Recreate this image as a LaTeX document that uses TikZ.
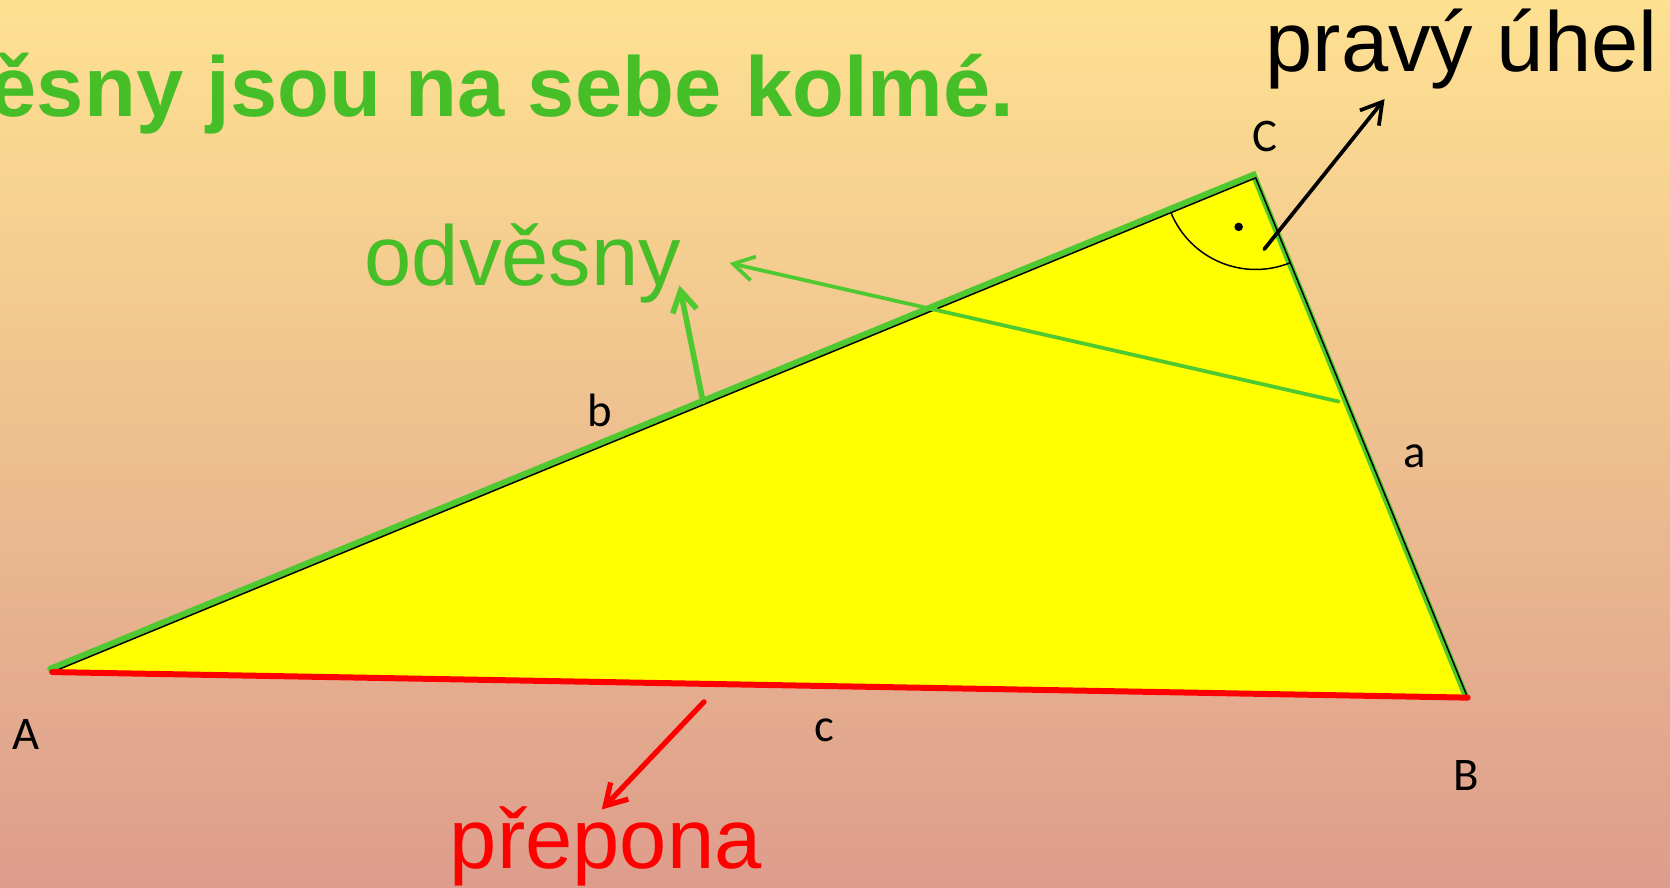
\documentclass[tikz,border=0pt]{standalone}
\usepackage{fontspec}
\setmainfont{Liberation Sans}
\newfontfamily\calibrifont{Carlito}
\usetikzlibrary{arrows.meta}

\begin{document}
\begin{tikzpicture}[x=0.02cm, y=-0.02cm,
  bigtext/.style={inner sep=0pt, anchor=base west, font=\fontsize{45.4}{50}\selectfont},
  pointlabel/.style={inner sep=0pt, font=\calibrifont\fontsize{25}{30}\selectfont},
  sideline/.style={line width=3.2pt, line cap=round},
  pointer/.style={line cap=round, -{Straight Barb[length=11pt, width=13pt]}}]

% Define colors from the slide
\definecolor{bgtop}{RGB}{254,225,145}
\definecolor{bgmid}{RGB}{243,201,136}
\definecolor{bgbottom}{RGB}{221,157,141}
\definecolor{legtext}{RGB}{70,190,40}
\definecolor{leggreen}{RGB}{78,201,48}
\definecolor{triyellow}{RGB}{255,255,0}

% Background
\useasboundingbox (0,0) rectangle (1568,833);
\clip (0,0) rectangle (1568,833);
\shade[top color=bgtop, middle color=bgmid, bottom color=bgbottom] (0,0) rectangle (1568,833);

% Triangle vertices
\coordinate (A) at (49,631);
\coordinate (B) at (1378,655);
\coordinate (C) at (1179,167);

\fill[triyellow] (A) -- (B) -- (C) -- cycle;

% Legs (green) and hypotenuse (red)
\draw[sideline, leggreen] ([shift={(-2,-3)}]A) -- ([shift={(-2,-3)}]C) -- ([shift={(-2,-2)}]B);
\draw[line width=0.8pt] (A) -- (C) -- (B);
\draw[sideline, red] (A) -- (B);

% Right angle mark
\draw[line width=0.8pt] (C) ++(67.8:86) arc[start angle=67.8, end angle=157.7, radius=86];
\fill (1163,213) circle[radius=4];

% Arrow end points
\coordinate (bfoot) at (660,377);
\coordinate (btip) at (638,268);
\coordinate (afoot) at (1257,377);
\coordinate (atip) at (685,247);
\coordinate (cfoot) at (661,659);
\coordinate (ctip) at (565,760);
\coordinate (rfoot) at (1187,234);
\coordinate (rtip) at (1300,93);

\draw[pointer, leggreen, line width=3pt] (bfoot) -- (btip);
\draw[pointer, leggreen, line width=2pt] (afoot) -- (atip);
\draw[pointer, red, line width=2.8pt] (cfoot) -- (ctip);
\draw[pointer, black, line width=2pt] (rfoot) -- (rtip);

% Vertex and side labels
\node[pointlabel] (labA) at (24,690) {A};
\node[pointlabel] (labB) at (1377,728) {B};
\node[pointlabel] (labC) at (1188,128) {C};
\node[pointlabel] (laba) at (1328,428) {a};
\node[pointlabel] (labb) at (563,385) {b};
\node[pointlabel] (labc) at (774,686) {c};

% Texts
\node[bigtext, legtext, font=\fontsize{45.4}{50}\selectfont\bfseries] (title) at (-10,109) {ěsny jsou na sebe kolmé.};
\node[bigtext, legtext] (odvesny) at (342,268) {odvěsny};
\node[bigtext, red] (prepona) at (422,815) {přepona};
\node[bigtext] (pravy) at (1188,67) {pravý úhel};

\end{tikzpicture}
\end{document}
